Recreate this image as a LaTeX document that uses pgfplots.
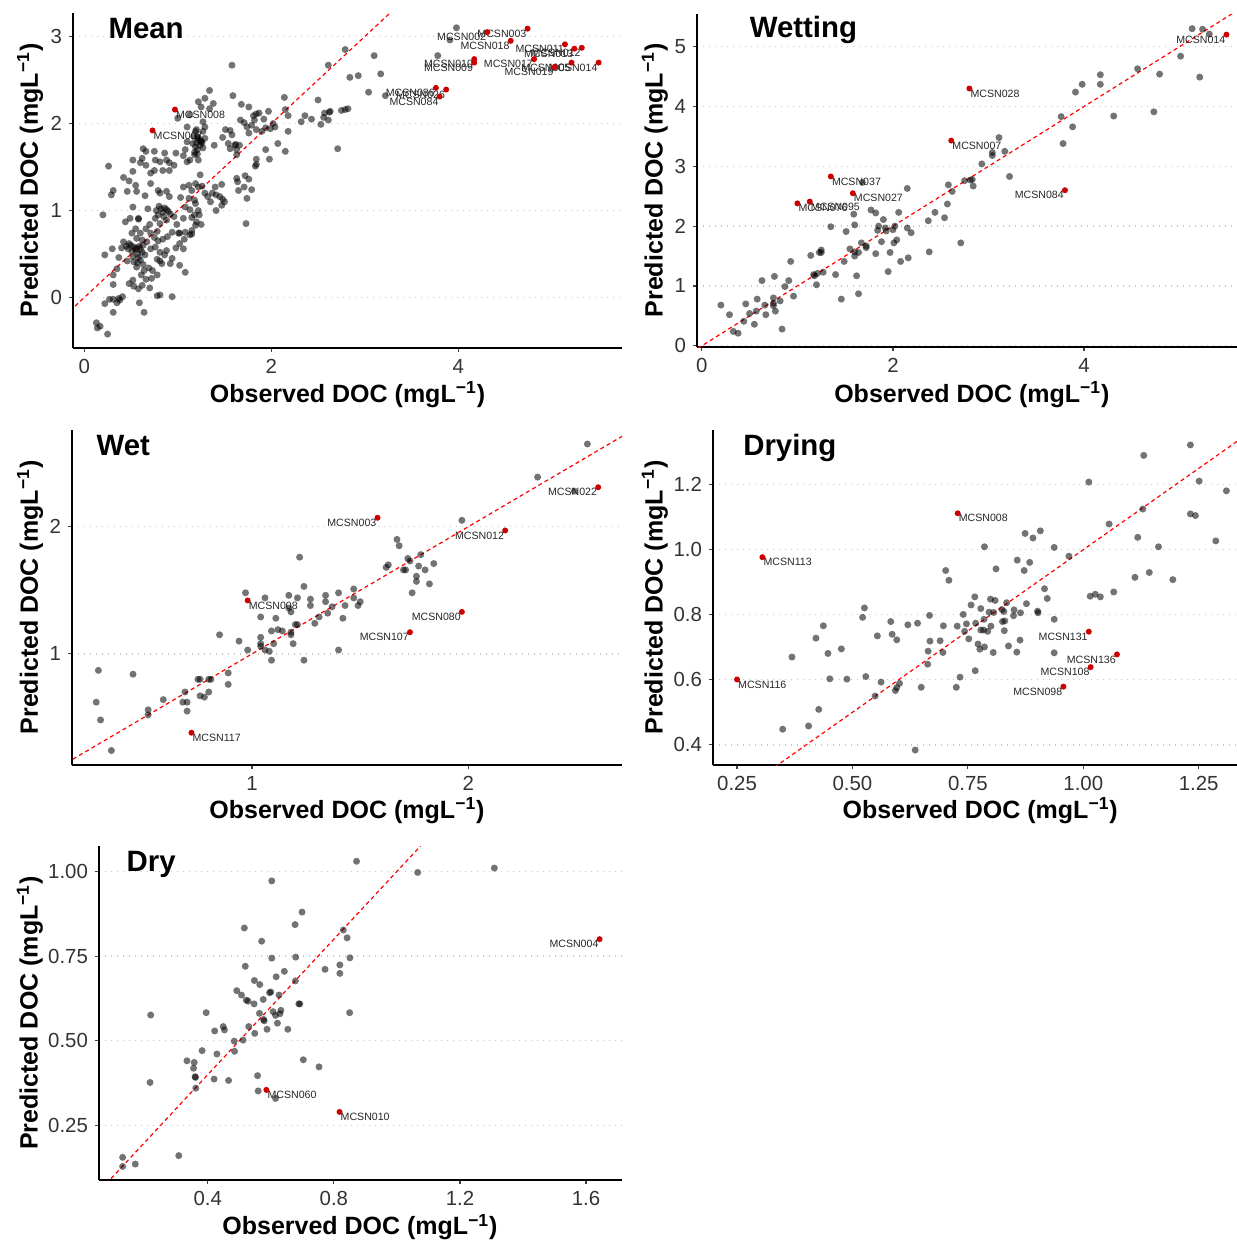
\documentclass[border=0pt]{standalone}
\usepackage{pgfplots}
\pgfplotsset{compat=1.18}
\usepackage{fontspec}
\setmainfont{Liberation Sans}

\definecolor{ptred}{RGB}{204,0,0}

\pgfplotsset{
  /pgf/number format/assume math mode=true,
  docpanel/.style={
    scale only axis,
    anchor=south west,
    axis lines*=left,
    axis line style={-, line width=0.9pt, black},
    tick align=outside,
    major tick length=2pt,
    tick style={line width=0.6pt, black!75},
    ymajorgrids,
    grid style={gray!45, line width=0.7pt, dash pattern=on 0.7pt off 2.3pt},
    tick label style={font=\fontsize{10.2}{11}\selectfont, text=black!80},
    label style={font=\fontsize{12.5}{14}\selectfont\bfseries},
    xlabel={Observed DOC (mgL\textsuperscript{−1})},
    ylabel={Predicted DOC (mgL\textsuperscript{−1})},
  },
  graypts/.style={only marks, mark=*, mark size=1.75pt, mark options={draw opacity=0, fill=black, fill opacity=0.55}},
  redpts/.style={only marks, mark=*, mark size=1.5pt, mark options={draw opacity=0, fill=ptred}},
  oneone/.style={red, line width=0.6pt, dash pattern=on 2pt off 1.6pt},
}
\tikzset{
  lab/.style={font=\fontsize{5.3}{6}\selectfont, inner sep=0.4pt, text=black!85},
  ttl/.style={font=\fontsize{14.7}{16}\selectfont\bfseries, anchor=base west, inner sep=0pt},
}

\begin{document}
\begin{tikzpicture}

% ---------------- Mean
\begin{axis}[docpanel, at={(36.5pt,-174pt)}, width=274.5pt, height=167.5pt,
  xmin=-0.12, xmax=5.75, ymin=-0.58, ymax=3.27, xtick={0,2,4}, ytick={0,1,2,3},
  xlabel style={at={(axis description cs:0.5,-0.140)}, anchor=center},
  ylabel style={at={(axis description cs:-0.078,0.5)}, anchor=center}]
\addplot[graypts] coordinates {
(3.98,3.10) (3.91,2.96) (3.78,2.78)
(3.04,2.36) (3.22,2.32) (3.17,2.57) (3.10,2.78) (2.84,2.53) (2.93,2.55) (2.79,2.85)
(2.75,2.15) (2.79,2.16) (2.82,2.17) (2.63,2.14)
(2.61,2.67) (1.58,2.67) (1.34,2.38) (1.59,2.32) (1.22,2.25) (1.38,2.23) (1.34,2.17)
(1.68,2.22) (1.76,2.19) (1.87,2.12) (1.97,2.14) (1.84,2.11)
(2.14,2.30) (2.15,2.16) (2.18,2.09) (2.50,2.27)
(2.36,2.09) (2.43,2.05) (2.32,2.02)
(2.57,2.12) (2.62,2.13) (2.56,2.07) (2.61,2.04) (2.53,1.99)
(2.71,1.71) (2.07,1.77) (2.15,1.68) (2.18,1.91) (1.94,1.70) (1.98,1.59) (1.84,1.59) (1.83,1.51) (1.84,1.53)
(1.67,2.04) (1.71,2.01) (1.74,1.96) (1.79,1.98) (1.82,2.04) (1.81,2.09) (1.76,1.89) (1.92,2.05) (1.94,1.95)
(1.99,1.94) (2.02,2.00) (2.04,1.96) (1.90,1.91) (1.84,1.93)
(1.51,1.93) (1.56,1.92) (1.58,1.87) (1.29,1.96) (1.27,2.02) (1.39,1.75) (1.48,1.84) (1.54,1.77) (1.61,1.75)
(1.62,1.76) (1.56,1.71) (1.63,1.70) (1.66,1.75) (1.63,1.64) (1.21,1.65)
(1.22,1.84) (1.25,1.80) (1.20,1.78) (1.24,1.75) (1.27,1.72) (1.21,1.70) (1.18,1.67) (1.26,1.78)
(1.24,1.41) (1.19,1.31) (1.26,1.28)
(1.29,1.20) (1.32,1.16) (1.37,1.20) (1.41,1.18) (1.45,1.16) (1.48,1.13) (1.50,1.10) (1.47,1.06) (1.41,1.00) (1.35,1.10)
(1.40,1.27) (1.47,1.30)
(1.63,1.37) (1.72,1.40) (1.76,1.36) (1.64,1.33) (1.71,1.27) (1.79,1.24) (1.65,1.23) (1.74,1.14)
(1.19,1.08)
(0.63,1.71) (0.66,1.68) (0.75,1.68) (0.52,1.58) (0.60,1.55) (0.62,1.60) (0.76,1.58) (0.75,1.46) (0.66,1.52)
(0.71,1.43) (0.86,1.66) (0.88,1.58) (0.91,1.55) (0.98,1.66) (1.06,1.63) (0.96,1.52) (0.91,1.46) (0.81,1.56) (0.84,1.46)
(1.08,1.70) (1.10,1.56) (1.13,1.58) (1.18,1.64) (1.22,1.58) (1.19,1.73) (1.22,1.81) (1.10,1.79) (1.17,1.85) (1.20,1.93)
(0.26,1.51) (0.42,1.38) (0.48,1.34) (0.52,1.45) (0.31,1.23) (0.29,1.18) (0.46,1.22) (0.56,1.22) (0.55,1.29)
(0.71,1.31) (0.79,1.23) (0.81,1.20) (0.88,1.22) (0.91,1.16) (1.03,1.15) (0.65,1.17) (1.06,1.27) (1.12,1.29)
(1.15,1.23) (1.22,1.27)
(0.52,1.04) (0.20,0.95) (0.68,1.02) (0.77,1.00) (0.82,1.02) (0.88,1.01) (0.92,0.96) (0.79,0.95) (1.08,1.04)
(1.13,1.01) (1.22,1.00) (1.12,1.14) (1.18,1.12) (0.49,0.91) (0.58,0.91)
(1.00,2.06) (1.13,2.10) (1.10,1.96) (1.19,1.91) (1.27,1.91) (1.21,1.85) (1.16,1.77) (1.25,1.79) (1.29,1.83)
(1.29,2.29) (1.25,2.19)
(1.73,0.85) (1.23,0.95) (1.18,0.95) (1.25,0.84) (1.19,0.83) (1.15,0.77) (1.13,0.72) (1.07,0.67) (1.02,0.74)
(0.44,0.87) (0.58,0.90) (0.70,0.84) (0.66,0.79) (0.76,0.91) (0.81,0.85) (0.78,0.76) (0.88,0.89) (0.96,0.93)
(0.99,0.84) (1.06,0.91) (1.15,0.92) (1.20,0.87)
(0.55,0.79) (0.60,0.74) (0.51,0.74) (0.56,0.68) (0.62,0.66)
(0.71,0.74) (0.75,0.69) (0.67,0.64) (0.79,0.65) (0.84,0.67) (0.89,0.70) (0.94,0.75) (1.01,0.74) (1.08,0.75) (1.15,0.73)
(0.42,0.64) (0.45,0.59) (0.40,0.57) (0.47,0.56) (0.51,0.53) (0.56,0.57) (0.59,0.59) (0.62,0.52) (0.58,0.46)
(0.65,0.49) (0.71,0.56) (0.76,0.58) (0.81,0.52) (0.78,0.44) (0.86,0.49) (0.88,0.54) (0.98,0.57) (0.94,0.45)
(1.02,0.62) (1.06,0.56)
(0.30,0.56) (0.22,0.49) (0.37,0.46) (0.35,0.33) (0.31,0.26) (0.46,0.42) (0.53,0.41)
(0.56,0.35) (0.61,0.26) (0.64,0.31) (0.69,0.34) (0.73,0.31) (0.78,0.26) (0.83,0.39) (0.81,0.42) (0.72,0.22)
(0.66,0.21) (0.52,0.20) (0.48,0.16) (0.53,0.13) (0.62,0.14) (0.58,0.10)
(0.92,0.39) (1.02,0.37) (1.08,0.29) (0.31,0.15) (0.70,0.11) (0.81,0.03) (0.78,0.02) (0.94,0.01)
(0.37,-0.01) (0.38,-0.03) (0.35,-0.06) (0.31,-0.02) (0.41,0.01) (0.22,-0.07) (0.27,-0.02) (0.31,-0.17)
(0.59,-0.06) (0.64,-0.17)
(0.13,-0.29) (0.17,-0.33) (0.14,-0.35) (0.25,-0.42)
(0.50,0.60) (0.53,0.58) (0.48,0.62) (0.55,0.55) (0.57,0.50) (0.60,0.55) (0.52,0.47) (0.63,0.60) (0.84,0.98)
(0.86,1.03) (0.80,1.05) (0.90,0.99) (0.85,0.93) (0.60,0.43) (0.57,0.40) (0.63,0.38)
};
\addplot[oneone] coordinates {(-1,-1) (6,6)};
\addplot[redpts] coordinates {
(0.97,2.16) (0.73,1.92) (4.31,3.05) (4.74,3.09) (4.56,2.95) (5.14,2.91) (5.24,2.86) (5.32,2.87)
(4.81,2.74) (5.03,2.65) (5.21,2.70) (5.50,2.70) (4.17,2.74) (4.17,2.70) (3.76,2.41) (3.87,2.39) (3.80,2.31)
};
\node[lab, anchor=north west] at (axis cs:0.97,2.16) {MCSN008};
\node[lab, anchor=north west] at (axis cs:0.73,1.92) {MCSN007};
\node[lab, anchor=north east] at (axis cs:4.31,3.05) {MCSN002};
\node[lab, anchor=north east] at (axis cs:4.74,3.09) {MCSN003};
\node[lab, anchor=north east] at (axis cs:4.56,2.95) {MCSN018};
\node[lab, anchor=north east] at (axis cs:5.14,2.91) {MCSN011};
\node[lab, anchor=north east] at (axis cs:5.24,2.86) {MCSN013};
\node[lab, anchor=north east] at (axis cs:5.32,2.87) {MCSN012};
\node[lab, anchor=north east] at (axis cs:4.81,2.74) {MCSN017};
\node[lab, anchor=north east] at (axis cs:5.03,2.65) {MCSN019};
\node[lab, anchor=north east] at (axis cs:5.21,2.70) {MCSN005};
\node[lab, anchor=north east] at (axis cs:5.50,2.70) {MCSN014};
\node[lab, anchor=north east] at (axis cs:4.17,2.74) {MCSN010};
\node[lab, anchor=north east] at (axis cs:4.17,2.70) {MCSN009};
\node[lab, anchor=north east] at (axis cs:3.76,2.41) {MCSN086};
\node[lab, anchor=north east] at (axis cs:3.87,2.39) {MCSN026};
\node[lab, anchor=north east] at (axis cs:3.80,2.31) {MCSN084};
\node[ttl] at (rel axis cs:0.064,0.925) {Mean};
\end{axis}

% ---------------- Wetting
\begin{axis}[docpanel, at={(348.5pt,-173.5pt)}, width=270pt, height=166.5pt,
  xmin=-0.05, xmax=5.6, ymin=-0.02, ymax=5.545, xtick={0,2,4}, ytick={0,1,2,3,4,5},
  xlabel style={at={(axis description cs:0.509,-0.144)}, anchor=center},
  ylabel style={at={(axis description cs:-0.078,0.5)}, anchor=center}]
\addplot[graypts] coordinates {
(5.13,5.30) (5.24,5.29) (5.31,5.21) (5.01,4.84) (5.21,4.49) (4.79,4.54) (4.56,4.63) (4.17,4.53) (4.17,4.37)
(3.98,4.37) (3.91,4.24) (4.31,3.84) (4.73,3.91) (3.76,3.83) (3.88,3.66) (3.78,3.38) (3.11,3.48) (3.17,3.25)
(3.04,3.23) (3.04,3.18) (2.93,3.04) (3.22,2.83) (2.75,2.76) (2.81,2.77) (2.83,2.78) (2.84,2.67) (2.58,2.69)
(2.62,2.58) (2.57,2.37) (2.54,2.14) (2.44,2.23) (2.37,2.09) (2.38,1.57) (2.71,1.72) (2.15,2.63) (2.06,2.23)
(2.15,1.97) (2.19,1.89) (2.02,2.00) (2.00,1.94) (2.04,1.77) (2.01,1.72) (1.93,1.92) (1.90,2.11) (1.82,2.22)
(1.77,2.27) (1.85,2.00) (1.84,1.93) (1.92,1.97) (1.88,1.74) (1.82,1.54) (1.97,1.56) (2.08,1.41) (2.16,1.47)
(1.95,1.24) (1.67,1.72) (1.72,1.64) (1.72,1.67) (1.64,1.56) (1.55,1.62) (1.60,1.50) (1.60,1.57) (1.62,1.17)
(1.64,0.87) (1.51,1.91) (1.60,2.02) (1.59,2.20) (1.68,2.73) (1.35,1.99) (1.49,1.41) (1.46,0.78) (1.40,1.19)
(1.25,1.60) (1.25,1.56) (1.23,1.56) (1.14,1.51) (1.27,1.23) (1.21,1.21) (1.18,1.17) (1.17,1.19) (1.20,1.02)
(0.93,1.41) (0.91,1.09) (0.87,0.99) (0.96,0.83) (0.82,0.75) (0.84,0.28) (0.76,1.16) (0.75,0.80) (0.75,0.71)
(0.75,0.67) (0.77,0.58) (0.63,1.09) (0.66,0.68) (0.67,0.52) (0.58,0.78) (0.57,0.58) (0.55,0.36) (0.50,0.54)
(0.46,0.70) (0.44,0.41) (0.33,0.24) (0.38,0.21) (0.29,0.52) (0.20,0.68)
};
\addplot[oneone] coordinates {(-1,-1) (6,6)};
\addplot[redpts] coordinates {
(5.49,5.20) (2.80,4.30) (2.61,3.43) (1.35,2.83) (1.58,2.55) (1.00,2.38) (1.13,2.41) (3.80,2.60)
};
\node[lab, anchor=north east] at (axis cs:5.49,5.20) {MCSN014};
\node[lab, anchor=north west] at (axis cs:2.80,4.30) {MCSN028};
\node[lab, anchor=north west] at (axis cs:2.61,3.43) {MCSN007};
\node[lab, anchor=north west] at (axis cs:1.35,2.83) {MCSN037};
\node[lab, anchor=north west] at (axis cs:1.58,2.55) {MCSN027};
\node[lab, anchor=north west] at (axis cs:1.00,2.38) {MCSN076};
\node[lab, anchor=north west] at (axis cs:1.13,2.41) {MCSN095};
\node[lab, anchor=north east] at (axis cs:3.80,2.60) {MCSN084};
\node[ttl] at (rel axis cs:0.097,0.929) {Wetting};
\end{axis}

% ---------------- Wet
\begin{axis}[docpanel, at={(36pt,-382.5pt)}, width=275pt, height=167.5pt,
  xmin=0.168, xmax=2.71, ymin=0.126, ymax=2.76, xtick={1,2}, ytick={1,2},
  xlabel style={at={(axis description cs:0.5,-0.137)}, anchor=center},
  ylabel style={at={(axis description cs:-0.076,0.5)}, anchor=center}]
\addplot[graypts] coordinates {
(2.55,2.65) (2.32,2.39) (2.49,2.28) (1.97,2.05) (1.67,1.90) (1.68,1.85) (1.78,1.78) (1.72,1.75) (1.73,1.73)
(1.63,1.70) (1.62,1.68) (1.77,1.69) (1.84,1.71) (1.80,1.66) (1.70,1.66) (1.71,1.66) (1.76,1.61) (1.76,1.57)
(1.82,1.55) (1.74,1.48) (1.22,1.76) (1.24,1.53) (0.97,1.48) (1.06,1.44) (1.17,1.46) (1.21,1.44) (1.27,1.43)
(1.27,1.38) (1.17,1.36) (1.18,1.33) (1.34,1.46) (1.34,1.41) (1.40,1.48) (1.37,1.37) (1.43,1.38) (1.35,1.32)
(1.47,1.51) (1.47,1.44) (1.49,1.38) (1.50,1.41) (1.42,1.28) (1.31,1.29) (1.29,1.24) (1.04,1.29) (1.11,1.28)
(1.09,1.18) (1.12,1.19) (1.14,1.18) (1.18,1.17) (1.20,1.23) (1.21,1.23) (1.18,1.15) (1.19,1.08) (1.10,1.08)
(1.04,1.13) (1.04,1.08) (1.04,1.06) (1.06,1.03) (1.08,1.02) (0.98,1.03) (1.09,0.95) (1.40,1.03) (1.24,0.95)
(0.94,1.10) (0.85,1.15) (0.89,0.85) (0.89,0.76) (0.75,0.80) (0.76,0.80) (0.80,0.80) (0.81,0.80) (0.80,0.70)
(0.76,0.67) (0.78,0.66) (0.69,0.70) (0.68,0.62) (0.70,0.62) (0.70,0.55) (0.59,0.64) (0.52,0.56) (0.52,0.52)
(0.45,0.84) (0.29,0.87) (0.28,0.62) (0.30,0.48) (0.35,0.24)
};
\addplot[oneone] coordinates {(0,0) (3,3)};
\addplot[redpts] coordinates {
(2.60,2.31) (1.58,2.07) (2.17,1.97) (0.98,1.42) (1.97,1.33) (1.73,1.17) (0.72,0.38)
};
\node[lab, anchor=north east] at (axis cs:2.60,2.31) {MCSN022};
\node[lab, anchor=north east] at (axis cs:1.58,2.07) {MCSN003};
\node[lab, anchor=north east] at (axis cs:2.17,1.97) {MCSN012};
\node[lab, anchor=north west] at (axis cs:0.98,1.42) {MCSN008};
\node[lab, anchor=north east] at (axis cs:1.97,1.33) {MCSN080};
\node[lab, anchor=north east] at (axis cs:1.73,1.17) {MCSN107};
\node[lab, anchor=north west] at (axis cs:0.72,0.38) {MCSN117};
\node[ttl] at (rel axis cs:0.044,0.925) {Wet};
\end{axis}

% ---------------- Drying
\begin{axis}[docpanel, at={(356.5pt,-382.5pt)}, width=262pt, height=167.5pt,
  xmin=0.198, xmax=1.333, ymin=0.338, ymax=1.368,
  xtick={0.25,0.5,0.75,1,1.25}, ytick={0.4,0.6,0.8,1,1.2},
  xticklabel style={/pgf/number format/.cd, fixed, fixed zerofill, precision=2},
  yticklabel style={/pgf/number format/.cd, fixed, fixed zerofill, precision=1},
  xlabel style={at={(axis description cs:0.51,-0.137)}, anchor=center},
  ylabel style={at={(axis description cs:-0.111,0.5)}, anchor=center}]
\addplot[graypts] coordinates {
(1.232,1.322) (1.131,1.290) (1.012,1.208) (1.251,1.211) (1.310,1.181) (1.129,1.125) (1.232,1.110) (1.243,1.105)
(1.056,1.079) (1.118,1.038) (1.287,1.027) (1.163,1.009) (0.969,0.980) (0.937,1.007) (0.907,1.058) (0.874,1.050)
(0.891,1.036) (0.786,1.009) (0.857,0.968) (0.884,0.961) (0.811,0.941) (0.872,0.936) (0.702,0.936) (0.709,0.906)
(1.112,0.915) (1.143,0.930) (1.194,0.908) (1.066,0.870) (1.015,0.857) (1.026,0.863) (1.037,0.855) (0.916,0.880)
(0.922,0.850) (0.877,0.834) (0.901,0.811) (0.902,0.806) (0.937,0.786)
(0.765,0.855) (0.757,0.830) (0.778,0.819) (0.799,0.848) (0.809,0.844) (0.796,0.808) (0.806,0.807) (0.824,0.816)
(0.834,0.837) (0.828,0.810) (0.850,0.815) (0.849,0.797) (0.864,0.806) (0.825,0.779) (0.830,0.781) (0.785,0.786)
(0.800,0.765) (0.793,0.749) (0.784,0.753) (0.778,0.753) (0.767,0.774) (0.747,0.772) (0.740,0.801) (0.727,0.765)
(0.743,0.749) (0.752,0.726) (0.772,0.710) (0.776,0.694) (0.786,0.701) (0.805,0.684) (0.829,0.751) (0.838,0.704)
(0.863,0.722) (0.856,0.685) (0.937,0.683) (0.766,0.628) (0.733,0.608) (0.725,0.577) (0.697,0.766) (0.690,0.720)
(0.668,0.719) (0.664,0.688) (0.696,0.684) (0.663,0.648) (0.667,0.798) (0.641,0.774) (0.620,0.769) (0.596,0.723)
(0.586,0.740) (0.554,0.735) (0.583,0.779) (0.526,0.821) (0.522,0.792) (0.476,0.695) (0.447,0.681) (0.437,0.766)
(0.421,0.728) (0.369,0.670) (0.451,0.603) (0.488,0.602) (0.529,0.610) (0.562,0.593) (0.549,0.550) (0.593,0.567)
(0.596,0.576) (0.602,0.589) (0.649,0.577) (0.427,0.509) (0.405,0.458) (0.349,0.448) (0.636,0.384)
};
\addplot[oneone] coordinates {(0,0) (2,2)};
\addplot[redpts] coordinates {
(0.728,1.112) (0.305,0.977) (0.250,0.601) (1.012,0.748) (1.073,0.678) (1.016,0.639) (0.957,0.579)
};
\node[lab, anchor=north west] at (axis cs:0.728,1.112) {MCSN008};
\node[lab, anchor=north west] at (axis cs:0.305,0.977) {MCSN113};
\node[lab, anchor=north west] at (axis cs:0.250,0.601) {MCSN116};
\node[lab, anchor=north east] at (axis cs:1.012,0.748) {MCSN131};
\node[lab, anchor=north east] at (axis cs:1.073,0.678) {MCSN136};
\node[lab, anchor=north east] at (axis cs:1.016,0.639) {MCSN108};
\node[lab, anchor=north east] at (axis cs:0.957,0.579) {MCSN098};
\node[ttl] at (rel axis cs:0.057,0.925) {Drying};
\end{axis}

% ---------------- Dry
\begin{axis}[docpanel, at={(49.5pt,-590pt)}, width=261.5pt, height=167pt,
  xmin=0.055, xmax=1.714, ymin=0.089, ymax=1.075,
  xtick={0.4,0.8,1.2,1.6}, ytick={0.25,0.5,0.75,1},
  xticklabel style={/pgf/number format/.cd, fixed, fixed zerofill, precision=1},
  yticklabel style={/pgf/number format/.cd, fixed, fixed zerofill, precision=2},
  xlabel style={at={(axis description cs:0.499,-0.141)}, anchor=center},
  ylabel style={at={(axis description cs:-0.132,0.5)}, anchor=center}]
\addplot[graypts] coordinates {
(0.872,1.030) (1.066,0.997) (1.309,1.010) (0.603,0.972) (0.699,0.880) (0.516,0.833) (0.677,0.843) (0.571,0.794)
(0.830,0.827) (0.842,0.804) (0.851,0.745) (0.819,0.724) (0.819,0.699) (0.772,0.711) (0.679,0.747) (0.603,0.744)
(0.519,0.720) (0.643,0.705) (0.617,0.689) (0.678,0.677) (0.548,0.678) (0.565,0.666) (0.596,0.642) (0.600,0.644)
(0.626,0.635) (0.492,0.648) (0.507,0.635) (0.522,0.620) (0.528,0.617) (0.547,0.609) (0.576,0.622) (0.689,0.609)
(0.692,0.609) (0.607,0.586) (0.632,0.590) (0.564,0.581) (0.629,0.580) (0.615,0.575) (0.577,0.563) (0.579,0.559)
(0.621,0.552) (0.530,0.542) (0.588,0.534) (0.654,0.534) (0.549,0.522) (0.850,0.583) (0.395,0.583) (0.219,0.576)
(0.449,0.542) (0.453,0.532) (0.422,0.529) (0.484,0.499) (0.512,0.502) (0.485,0.469) (0.382,0.471) (0.429,0.461)
(0.334,0.441) (0.357,0.436) (0.355,0.419) (0.360,0.394) (0.361,0.392) (0.420,0.387) (0.466,0.383) (0.362,0.360)
(0.558,0.397) (0.560,0.352) (0.615,0.330) (0.703,0.444) (0.753,0.423) (0.217,0.377) (0.308,0.161) (0.130,0.156)
(0.130,0.129) (0.170,0.136)
};
\addplot[oneone] coordinates {(0,0) (2,2)};
\addplot[redpts] coordinates {(1.643,0.800) (0.586,0.355) (0.818,0.290)};
\node[lab, anchor=north east] at (axis cs:1.643,0.800) {MCSN004};
\node[lab, anchor=north west] at (axis cs:0.586,0.355) {MCSN060};
\node[lab, anchor=north west] at (axis cs:0.818,0.290) {MCSN010};
\node[ttl] at (rel axis cs:0.052,0.923) {Dry};
\end{axis}

\pgfresetboundingbox
\path[use as bounding box] (0,0) rectangle (618.5pt,-621.5pt);
\end{tikzpicture}
\end{document}
